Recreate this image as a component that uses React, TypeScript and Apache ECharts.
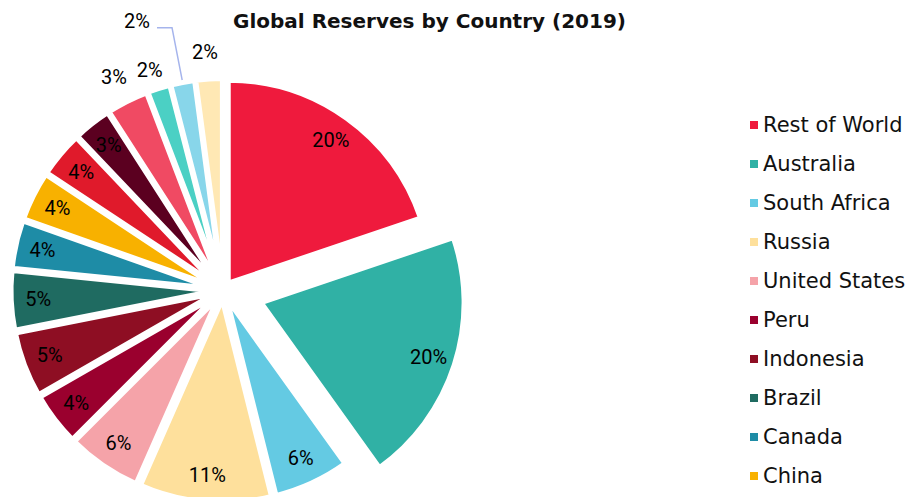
import React, { useEffect, useRef } from "react";
import * as echarts from "echarts";

// ---- data ----
const titleText = "Global Reserves by Country (2019)";
const countries = [
  "Rest of World",
  "Australia",
  "South Africa",
  "Russia",
  "United States",
  "Peru",
  "Indonesia",
  "Brazil",
  "Canada",
  "China",
  "Uzbekistan",
  "Mexico",
  "Ghana",
  "Kazakhstan",
  "Papua New Guinea",
  "Argentina",
];
const shares = [19.8, 20.3, 6.0, 10.5, 5.9, 4.2, 5.2, 4.7, 3.8, 3.9, 3.6, 3.0, 3.3, 1.8, 1.9, 2.1];
const legendNames = countries.slice(0, 10);
const explodedName = "Australia";

// ---- styles ----
const palette = [
  "#EF1A3D",
  "#30B1A5",
  "#64CAE3",
  "#FEE09C",
  "#F5A3A9",
  "#9A002E",
  "#8E0E23",
  "#1F6B61",
  "#1E8CA6",
  "#F8B100",
  "#E01A2B",
  "#5B0020",
  "#F04A63",
  "#4BD0C4",
  "#88D6EA",
  "#FFE8B4",
];

const R = 203;
const CENTER = [223, 290.5];
const BASE_OFFSET = 9;
const EXPLODE_OFFSET = 40;
const LABEL_R0 = 143;
const labelFont = "Roboto, 'DejaVu Sans Condensed', sans-serif";
const labelSize = 20;
const uiFont = "'DejaVu Sans', Verdana, sans-serif";
const transparent = { color: "rgba(0,0,0,0)", borderWidth: 0 };

// per-slice label placement for the small slices whose labels sit outside
const outsideLabels: Record<string, any> = {
  Ghana: { dist: -12, len: 27.7, len2: 0, line: false },
  Kazakhstan: { dist: -10, len: 19.8, len2: 0, line: false },
  "Papua New Guinea": { dist: 7, len: 55.7, len2: 15, line: true },
  Argentina: { dist: -10.8, len: 27.5, len2: 0, line: false },
};

const fmt = (p: any) => Math.round(p.percent) + "%";
const fmtRaised = (p: any) => `{t|${Math.round(p.percent)}%}\n{s| }`;

function buildOption() {
  const common = {
    type: "pie",
    center: CENTER,
    startAngle: 90,
    clockwise: true,
    selectedMode: "multiple",
    avoidLabelOverlap: false,
    silent: true,
    emphasis: { disabled: true },
    percentPrecision: 4,
  };

  const fillSeries = (showExploded: boolean) => ({
    ...common,
    radius: [0, R],
    selectedOffset: showExploded ? EXPLODE_OFFSET : BASE_OFFSET,
    label: { show: false },
    labelLine: { show: false },
    itemStyle: { borderColor: "#ffffff", borderWidth: 5 },
    data: countries.map((name, i) => {
      const isExp = name === explodedName;
      const visible = showExploded ? isExp : !isExp;
      return {
        name,
        value: shares[i],
        selected: visible,
        itemStyle: visible ? { color: palette[i], borderColor: "#ffffff", borderWidth: 5 } : transparent,
      };
    }),
  });

  const labelSeries = (forExploded: boolean) => ({
    ...common,
    radius: [LABEL_R0, R],
    selectedOffset: forExploded ? EXPLODE_OFFSET : BASE_OFFSET,
    itemStyle: transparent,
    label: {
      show: true,
      position: "inside",
      formatter: fmt,
      fontFamily: labelFont,
      fontSize: labelSize,
      color: "#000",
    },
    labelLine: { show: false },
    data: countries.map((name, i) => {
      const isExp = name === explodedName;
      const visible = forExploded ? isExp : !isExp;
      const item: any = {
        name,
        value: shares[i],
        selected: visible,
        itemStyle: transparent,
      };
      if (!visible) {
        item.label = { show: false };
      } else if (outsideLabels[name]) {
        const o = outsideLabels[name];
        item.label = {
          show: true,
          position: "outside",
          distanceToLabelLine: o.dist,
        };
        if (o.line) {
          item.label.formatter = fmtRaised;
          item.label.rich = {
            t: { fontFamily: labelFont, fontSize: labelSize, color: "#000", lineHeight: 20 },
            s: { fontSize: 10, lineHeight: 14, height: 14 },
          };
        }
        item.labelLine = {
          show: o.line,
          length: o.len,
          length2: o.len2,
          smooth: false,
          lineStyle: { color: "#A5B4EC", width: 1.5 },
        };
      }
      return item;
    }),
  });

  return {
    animation: false,
    backgroundColor: "#ffffff",
    title: {
      text: titleText,
      left: 233,
      top: 11,
      padding: 0,
      textStyle: { fontFamily: uiFont, fontWeight: "bold", fontSize: 20, color: "#111" },
    },
    legend: {
      orient: "vertical",
      left: 745,
      top: 107,
      height: 700,
      itemWidth: 8,
      itemHeight: 8,
      itemGap: 13,
      icon: "rect",
      selectedMode: false,
      itemStyle: { borderWidth: 0 },
      textStyle: { fontFamily: uiFont, fontSize: 21, color: "#111", lineHeight: 26 },
      data: legendNames.map((name) => ({
        name,
        itemStyle: { color: palette[countries.indexOf(name)], borderWidth: 0 },
      })),
    },
    series: [fillSeries(false), fillSeries(true), labelSeries(false), labelSeries(true)],
  };
}

export default function App() {
  const ref = useRef<HTMLDivElement>(null);
  useEffect(() => {
    if (!ref.current) return;
    const chart = echarts.init(ref.current, undefined, { renderer: "svg" });
    chart.setOption(buildOption() as any);
    return () => chart.dispose();
  }, []);
  return (
    <div
      ref={ref}
      style={{ position: "absolute", left: 0, top: 0, width: 911, height: 497 }}
    />
  );
}
